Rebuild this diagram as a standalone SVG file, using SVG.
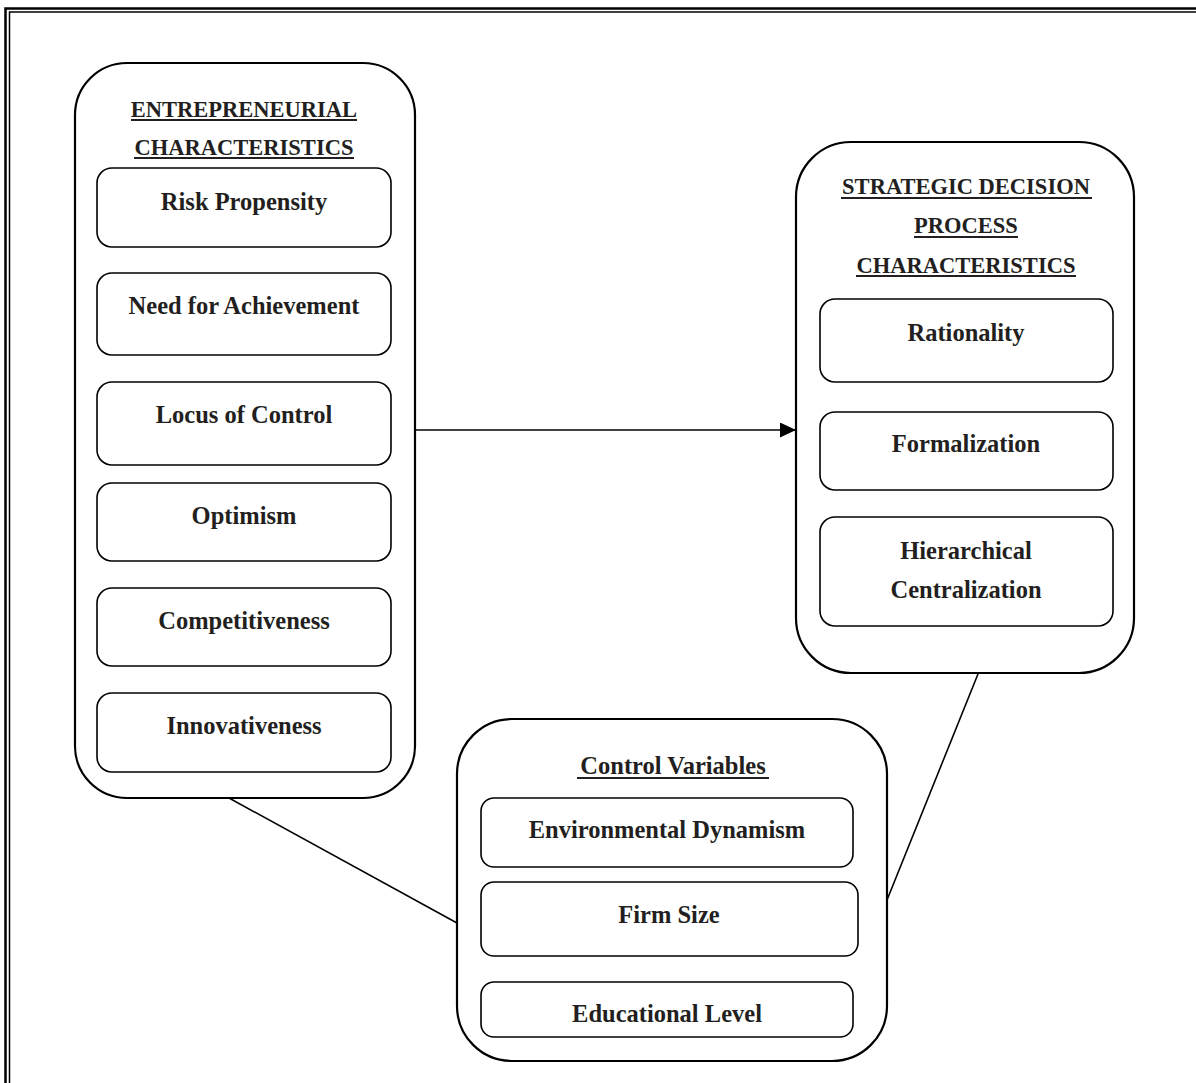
<svg xmlns="http://www.w3.org/2000/svg" width="1196" height="1083" viewBox="0 0 1196 1083">
<style>
.outer{fill:none;stroke:#000;stroke-width:2.2}
.inner{fill:none;stroke:#000;stroke-width:1.6}
.t{font-family:"Liberation Serif","Times New Roman",serif;font-weight:bold;fill:#231f20;text-anchor:middle}
.item{font-size:24.5px}
.title{font-size:22.5px}
.ctitle{font-size:24.5px}
.ul{stroke:#231f20;stroke-width:2}
.conn{stroke:#000;stroke-width:1.6;fill:none}
</style>
<defs>
<marker id="arr" markerWidth="17" markerHeight="15" refX="16" refY="7.5" orient="auto" markerUnits="userSpaceOnUse">
<path d="M0,0 L16,7.5 L0,15 Z" fill="#000"/>
</marker>
</defs>
<rect width="1196" height="1083" fill="#fff"/>
<g id="frame">
<path d="M5.5,1083 V8.5 H1196" fill="none" stroke="#000" stroke-width="2.5"/>
<path d="M9.5,1083 V12 H1196" fill="none" stroke="#000" stroke-width="1.5"/>
</g>
<g id="connectors">
<line class="conn" x1="414" y1="430" x2="796" y2="430" marker-end="url(#arr)"/>
<line class="conn" x1="229" y1="798" x2="457" y2="923"/>
<line class="conn" x1="978" y1="674" x2="887" y2="900"/>
</g>
<g id="entrepreneurial">
<rect class="outer" x="75" y="63" width="340" height="735" rx="52" ry="52"/>
<text class="t title" x="244" y="117">ENTREPRENEURIAL</text>
<line class="ul" x1="131" y1="120" x2="357" y2="120"/>
<text class="t title" x="244" y="155">CHARACTERISTICS</text>
<line class="ul" x1="134" y1="158" x2="354" y2="158"/>
<g id="risk"><rect class="inner" x="97" y="168" width="294" height="79" rx="15"/><text class="t item" x="244" y="210">Risk Propensity</text></g>
<g id="need"><rect class="inner" x="97" y="273" width="294" height="82" rx="15"/><text class="t item" x="244" y="314">Need for Achievement</text></g>
<g id="locus"><rect class="inner" x="97" y="382" width="294" height="83" rx="15"/><text class="t item" x="244" y="423">Locus of Control</text></g>
<g id="optimism"><rect class="inner" x="97" y="483" width="294" height="78" rx="15"/><text class="t item" x="244" y="524">Optimism</text></g>
<g id="competitiveness"><rect class="inner" x="97" y="588" width="294" height="78" rx="15"/><text class="t item" x="244" y="629">Competitiveness</text></g>
<g id="innovativeness"><rect class="inner" x="97" y="693" width="294" height="79" rx="15"/><text class="t item" x="244" y="734">Innovativeness</text></g>
</g>
<g id="strategic">
<rect class="outer" x="796" y="142" width="338" height="531" rx="55" ry="55"/>
<text class="t title" x="966" y="194">STRATEGIC DECISION</text>
<line class="ul" x1="841" y1="198" x2="1092" y2="198"/>
<text class="t title" x="966" y="233">PROCESS</text>
<line class="ul" x1="914" y1="237" x2="1018" y2="237"/>
<text class="t title" x="966" y="273">CHARACTERISTICS</text>
<line class="ul" x1="856" y1="276" x2="1076" y2="276"/>
<g id="rationality"><rect class="inner" x="820" y="299" width="293" height="83" rx="15"/><text class="t item" x="966" y="341">Rationality</text></g>
<g id="formalization"><rect class="inner" x="820" y="412" width="293" height="78" rx="15"/><text class="t item" x="966" y="452">Formalization</text></g>
<g id="hierarchical"><rect class="inner" x="820" y="517" width="293" height="109" rx="15"/><text class="t item" x="966" y="559">Hierarchical</text><text class="t item" x="966" y="598">Centralization</text></g>
</g>
<g id="control">
<rect class="outer" x="457" y="719" width="430" height="342" rx="55" ry="55"/>
<text class="t ctitle" x="673" y="774">Control Variables</text>
<line class="ul" x1="577" y1="778" x2="769" y2="778"/>
<g id="envdyn"><rect class="inner" x="481" y="798" width="372" height="69" rx="13"/><text class="t item" x="667" y="838">Environmental Dynamism</text></g>
<g id="firmsize"><rect class="inner" x="481" y="882" width="377" height="74" rx="13"/><text class="t item" x="669" y="923">Firm Size</text></g>
<g id="edu"><rect class="inner" x="481" y="982" width="372" height="55" rx="13"/><text class="t item" x="667" y="1022">Educational Level</text></g>
</g>
</svg>
